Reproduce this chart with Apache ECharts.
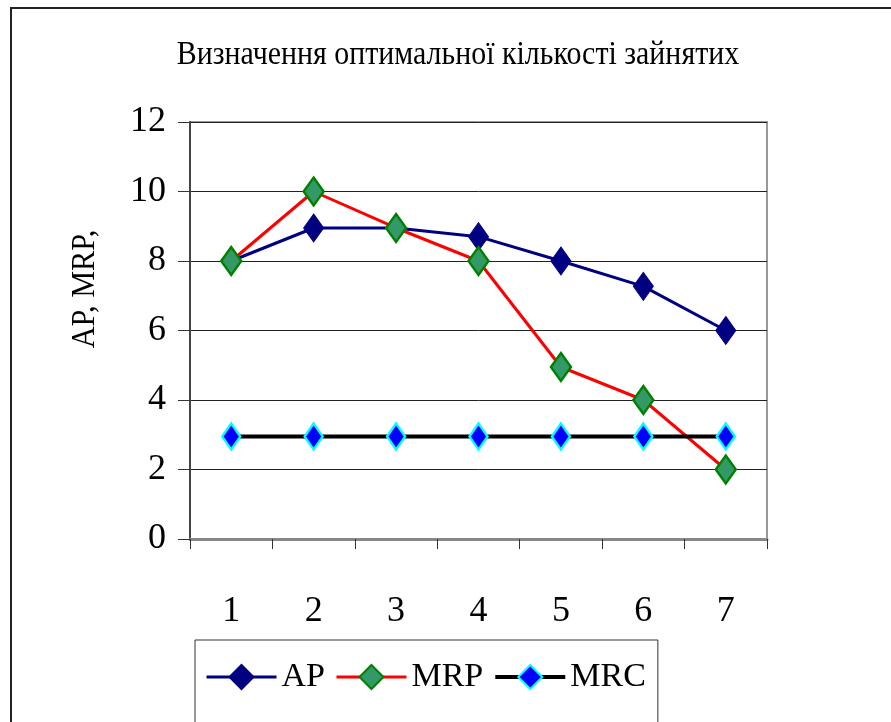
<!DOCTYPE html>
<html>
<head>
<meta charset="utf-8">
<script src="https://cdn.jsdelivr.net/npm/echarts@6/dist/echarts.min.js"></script>
<style>
	html, body { margin: 0; padding: 0; background: #fff; }
	#chart { width: 891px; height: 722px; }
</style>
</head>
<body>
<div id="chart"></div>
<script>
	const categories = ['1', '2', '3', '4', '5', '6', '7']
	const apValues = [8, 8.95, 8.95, 8.7, 8, 7.27, 6]
	const mrpValues = [8, 10, 8.95, 8, 4.95, 4, 2]
	const mrcValues = [2.95, 2.95, 2.95, 2.95, 2.95, 2.95, 2.95]

	const serif = '"Liberation Serif", "DejaVu Serif", serif'

	const chart = echarts.init(document.getElementById('chart'))

	const chartOpts = {
		animation: false,
		textStyle: { fontFamily: serif, color: '#000' },
		graphic: [
			{
				type: 'rect',
				shape: { x: 11, y: 8, width: 920, height: 760 },
				style: { fill: 'none', stroke: '#222', lineWidth: 2 },
				silent: true
			},
			{
				// title, narrowed a bit like the original
				type: 'text',
				x: 458,
				y: 55,
				scaleX: 0.88,
				style: {
					text: 'Визначення оптимальної кількості зайнятих',
					font: '34px ' + serif,
					fill: '#000',
					align: 'center',
					verticalAlign: 'middle'
				}
			},
			{
				type: 'text',
				x: 85,
				y: 289,
				rotation: Math.PI / 2,
				scaleX: 0.89,
				style: {
					text: 'AP, MRP,',
					font: '34px ' + serif,
					fill: '#000',
					align: 'center',
					verticalAlign: 'middle'
				}
			}
		],
		grid: {
			left: 190,
			right: 124,
			top: 122,
			bottom: 183,
			show: true,
			borderColor: '#999',
			borderWidth: 2,
			containLabel: false
		},
		legend: {
			left: 195,
			top: 640,
			padding: [20, 12, 30, 10],
			borderColor: '#333',
			borderWidth: 1,
			itemWidth: 70,
			itemHeight: 30,
			itemGap: 10,
			textStyle: { fontFamily: serif, fontSize: 34, color: '#000' },
			data: [
				{ name: 'AP', lineStyle: { width: 3 } },
				{ name: 'MRP', lineStyle: { width: 3 } },
				{ name: 'MRC', lineStyle: { width: 4 } }
			]
		},
		xAxis: {
			type: 'category',
			data: categories,
			boundaryGap: true,
			axisLine: { lineStyle: { color: '#888', width: 3 } },
			axisTick: { show: true, length: 10, lineStyle: { color: '#333', width: 1 } },
			axisLabel: { fontFamily: serif, fontSize: 36, color: '#000', margin: 55 },
			splitLine: { show: false }
		},
		yAxis: {
			type: 'value',
			min: 0,
			max: 12,
			interval: 2,
			axisLine: { show: true, lineStyle: { color: '#444', width: 2 } },
			axisTick: { show: true, length: 12, lineStyle: { color: '#333', width: 1 } },
			axisLabel: { fontFamily: serif, fontSize: 36, color: '#000', margin: 24 },
			splitLine: { show: true, lineStyle: { color: '#222', width: 1 } }
		},
		series: [
			{
				name: 'AP',
				type: 'line',
				data: apValues,
				symbol: 'diamond',
				symbolSize: [20, 28],
				lineStyle: { color: '#000080', width: 3 },
				itemStyle: { color: '#000080', borderColor: '#000080', borderWidth: 1 }
			},
			{
				name: 'MRP',
				type: 'line',
				data: mrpValues,
				symbol: 'diamond',
				symbolSize: [20, 28],
				lineStyle: { color: '#ff0000', width: 3 },
				itemStyle: { color: '#339966', borderColor: '#008000', borderWidth: 2.5 }
			},
			{
				name: 'MRC',
				type: 'line',
				data: mrcValues,
				symbol: 'diamond',
				symbolSize: [18, 26],
				lineStyle: { color: '#000', width: 4 },
				itemStyle: { color: '#0000ff', borderColor: '#00ffff', borderWidth: 2.5 }
			}
		]
	}

	chart.setOption(chartOpts)
</script>
</body>
</html>
